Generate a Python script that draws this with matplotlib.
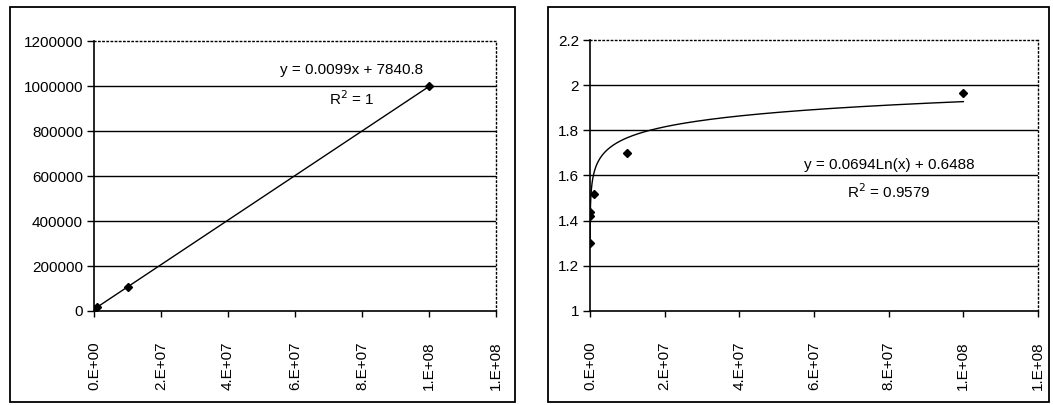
"""Two Excel-style calibration charts: linear fit (left) and log fit (right)."""

import numpy as np
import matplotlib

matplotlib.use("Agg")
import matplotlib.pyplot as plt
from matplotlib.patches import Rectangle
from matplotlib.ticker import FuncFormatter

# data
X = [1e4, 5e4, 1e5, 1e6, 1e7, 1e8]
Y_LIN = [7900, 8300, 8800, 17700, 106800, 997800]
Y_LOG = [1.30, 1.42, 1.44, 1.52, 1.70, 1.965]

# trendline coefficients as printed on the charts
LIN_A, LIN_B = 0.0099, 7840.8
LOG_A, LOG_B = 0.0694, 0.6488
LIN_EQ = ["y = 0.0099x + 7840.8", "R$^2$ = 1"]
LOG_EQ = ["y = 0.0694Ln(x) + 0.6488", "R$^2$ = 0.9579"]

X_TICKS = [0, 2e7, 4e7, 6e7, 8e7, 1e8, 1.2e8]
LIN_YTICKS = [0, 200000, 400000, 600000, 800000, 1000000, 1200000]
LOG_YTICKS = [1, 1.2, 1.4, 1.6, 1.8, 2, 2.2]

plt.rcParams["font.family"] = ["Liberation Sans Narrow", "Liberation Sans", "DejaVu Sans"]
plt.rcParams["font.size"] = 11

fig = plt.figure(figsize=(10.53, 4.05), dpi=100)
W, H = 1053, 405

# outer chart-area borders
for x0, x1 in [(10, 515), (548, 1049)]:
    fig.patches.append(Rectangle((x0 / W, 1 - 402 / H), (x1 - x0) / W, 395 / H,
                                 transform=fig.transFigure, fill=False,
                                 edgecolor="black", lw=1.3))

ax1 = fig.add_axes([94 / W, 1 - 311 / H, (496 - 94) / W, 270 / H])
ax2 = fig.add_axes([590 / W, 1 - 311 / H, (1038 - 590) / W, 271 / H])


def sci(v, _pos):
    if v == 0:
        return "0.E+00"
    e = int(np.floor(np.log10(abs(v))))
    return f"{int(v / 10 ** e)}.E+{e:02d}"


def style(ax, yticks, yfmt):
    ax.set_xlim(X_TICKS[0], X_TICKS[-1])
    ax.set_ylim(yticks[0], yticks[-1])
    ax.set_xticks(X_TICKS)
    ax.xaxis.set_major_formatter(FuncFormatter(sci))
    ax.set_yticks(yticks)
    ax.yaxis.set_major_formatter(FuncFormatter(yfmt))
    for t in yticks[1:-1]:
        ax.axhline(t, color="black", lw=1.0, zorder=1)
    for s in ["top", "right"]:
        ax.spines[s].set_linestyle((0, (1, 2)))
        ax.spines[s].set_linewidth(1.0)
    for s in ["left", "bottom"]:
        ax.spines[s].set_linewidth(1.2)
    ax.tick_params(axis="x", labelrotation=90, length=4, width=1, pad=18)
    ax.tick_params(axis="y", length=5, width=1, pad=3)


def label(lines, cx, cy1, cy2):
    for txt, cy in zip(lines, [cy1, cy2]):
        fig.text(cx / W, 1 - cy / H, txt, ha="center", va="center", fontsize=11)


# left: linear fit
style(ax1, LIN_YTICKS, lambda v, p: f"{int(v)}")
xl = np.array([min(X), max(X)])
ax1.plot(xl, LIN_A * xl + LIN_B, color="black", lw=1.0, zorder=2)
ax1.plot(X, Y_LIN, ls="none", marker="D", ms=4.5, color="black", zorder=3)
label(LIN_EQ, 352, 70, 99)

# right: logarithmic fit
style(ax2, LOG_YTICKS, lambda v, p: f"{v:g}")
xc = np.geomspace(min(X), max(X), 400)
ax2.plot(xc, LOG_A * np.log(xc) + LOG_B, color="black", lw=1.0, zorder=2)
ax2.plot(X, Y_LOG, ls="none", marker="D", ms=4.5, color="black", zorder=3)
label(LOG_EQ, 889, 165, 192)

fig.savefig("out.png", dpi=100)
